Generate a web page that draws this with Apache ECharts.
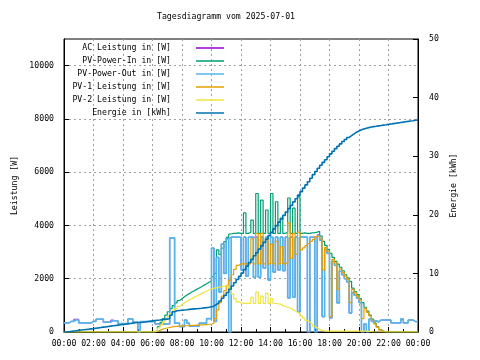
<!DOCTYPE html>
<html><head><meta charset="utf-8">
<script src="https://cdn.jsdelivr.net/npm/echarts@6.0.0/dist/echarts.min.js"></script>
<style>html,body{margin:0;padding:0;background:#fff}#c{width:480px;height:360px}</style>
</head><body><div id="c"></div><script>
const chartTitle = 'Tagesdiagramm vom 2025-07-01';
const leftAxisName = 'Leistung [W]';
const rightAxisName = 'Energie [kWh]';
const seriesNames = ['AC Leistung in [W]', 'PV-Power-In in [W]', 'PV-Power-Out in [W]', 'PV-1 Leistung in [W]', 'PV-2 Leistung in [W]', 'Energie in [kWh]'];
// sample grid: every 10 minutes from 00:00 to 24:00 (hours)
const times = Array.from({length: 145}, (_, i) => i / 6);

const acPower = [
340,340,400,400,480,480,340,340,340,340,340,400,
400,480,480,480,370,370,370,450,420,420,320,320,
320,320,490,490,370,370,0,390,390,390,390,390,
390,300,300,300,300,300,300,3530,3530,330,330,200,
200,450,330,220,220,220,220,330,330,330,500,500,
3150,400,2800,1500,3300,2200,3500,3560,3560,3560,3560,3560,
2330,3560,2100,3560,3560,3560,3560,2060,3560,2400,3560,1950,
3560,2250,3560,2330,3560,2300,3560,1280,3560,1310,3560,750,
3560,3560,3560,0,3560,3560,0,3650,3450,575,3100,2950,
525,2650,2500,1090,2280,2150,2000,1880,710,1480,1380,1270,
1100,0,300,0,480,400,420,380,450,450,450,450,
450,340,340,340,340,490,340,340,450,450,390,390,
400];
const pvPowerIn = [
0,0,0,0,0,0,0,0,0,0,0,0,
0,0,0,0,0,0,0,0,0,0,0,0,
0,0,0,0,0,0,0,0,0,0,0,0,
0,60,200,360,500,630,760,880,990,1090,1180,1250,
1320,1390,1440,1500,1550,1600,1650,1700,1760,1810,1870,1910,
2080,2200,3080,2900,3150,3390,3550,3680,3700,3700,3720,3700,
3700,4470,3700,3750,4200,3700,5200,3700,4950,3700,4580,3700,
5200,3700,4890,3700,4280,3700,3750,5030,3700,4650,3700,5080,
3700,3720,3700,3700,3720,3730,3750,3780,3600,3400,3250,3100,
2950,2800,2650,2550,2430,2300,2150,2030,1900,1650,1520,1400,
1250,1100,930,780,630,480,330,200,90,30,0,0,
0,0,0,0,0,0,0,0,0,0,0,0,
0];
const pvPowerOut = [
340,340,400,400,450,450,340,340,340,340,340,400,
400,480,480,480,370,370,370,420,420,420,320,320,
320,320,490,490,370,370,0,390,390,390,390,390,
390,300,300,300,300,300,300,3530,3530,330,330,200,
200,450,330,220,220,220,220,330,330,330,500,500,
3150,400,2800,1500,3300,2200,3500,0,3560,3560,3560,3560,
2330,3560,2100,3560,3560,2060,3560,2060,3560,2400,3560,1950,
3560,2250,3560,2330,3560,2300,3560,1280,3560,1310,3560,750,
3560,3560,3560,0,3560,3560,0,3600,3450,575,3100,2950,
525,2650,2500,1090,2280,2150,2000,1880,710,1480,1380,1270,
1100,0,300,0,480,400,420,380,450,450,450,450,
450,340,340,340,340,490,340,340,450,450,390,390,
400];
const pv1Power = [
0,0,0,0,0,0,0,0,0,0,0,0,
0,0,0,0,0,0,0,0,0,0,0,0,
0,0,0,0,0,0,0,0,0,0,0,0,
0,20,60,100,130,150,170,190,200,210,220,225,
230,235,240,245,250,255,260,265,270,280,290,300,
330,500,830,1100,1350,1550,1750,1950,2150,2350,2500,2560,
2560,2560,2560,2560,3500,2560,3700,2560,3700,2560,3500,2560,
3300,2560,3400,2560,3200,2560,2600,4100,2760,3700,2920,3750,
3080,3160,3240,3320,3400,3480,3580,3600,3500,2330,3170,3030,
575,2730,2590,1600,2370,2240,2100,1980,1100,1600,1470,1350,
1200,500,890,740,600,450,300,180,80,30,10,0,
0,0,0,0,0,0,0,0,0,0,0,0,
0];
const pv2Power = [
0,0,0,0,0,0,0,0,0,0,0,0,
0,0,0,0,0,0,0,0,0,0,0,0,
0,0,0,0,0,0,0,0,0,0,0,0,
0,50,150,260,370,480,590,690,790,880,960,1030,
1090,1150,1200,1250,1300,1350,1390,1440,1490,1530,1575,1610,
1640,1660,1680,1700,1715,1725,1730,1640,1420,1250,1130,1090,
1075,1075,1075,1075,1300,1075,1500,1075,1350,1075,1450,1075,
1250,1070,1060,1050,1000,960,930,900,850,800,740,690,
600,520,440,370,300,220,160,100,60,40,30,30,
30,30,30,30,30,30,30,30,30,30,30,30,
30,30,30,20,10,0,0,0,0,0,0,0,
0,0,0,0,0,0,0,0,0,0,0,0,
0];
const energyKWh = [
0.00,0.05,0.10,0.16,0.22,0.28,0.33,0.38,0.43,0.48,0.53,0.58,
0.64,0.70,0.77,0.83,0.88,0.94,1.00,1.06,1.12,1.18,1.23,1.28,
1.33,1.38,1.45,1.52,1.57,1.62,1.63,1.66,1.72,1.78,1.84,1.90,
1.96,2.01,2.05,2.10,2.15,2.20,2.25,2.85,3.45,3.62,3.68,3.72,
3.76,3.80,3.86,3.90,3.94,3.98,4.02,4.06,4.11,4.16,4.22,4.30,
4.40,4.70,4.95,5.30,5.75,6.25,6.75,7.30,7.85,8.40,8.95,9.50,
10.05,10.65,11.25,11.85,12.40,13.00,13.55,14.15,14.70,15.30,15.85,16.45,
17.00,17.60,18.15,18.75,19.30,19.90,20.45,21.05,21.60,22.20,22.75,23.35,
23.95,24.55,25.10,25.65,26.25,26.85,27.40,27.95,28.45,28.95,29.40,29.90,
30.40,30.85,31.30,31.70,32.10,32.50,32.85,33.20,33.50,33.80,34.10,34.30,
34.50,34.65,34.78,34.88,34.97,35.05,35.10,35.17,35.23,35.30,35.36,35.43,
35.50,35.56,35.62,35.68,35.75,35.81,35.88,35.94,36.00,36.06,36.13,36.20,
36.26];

const seriesValues = [acPower, pvPowerIn, pvPowerOut, pv1Power, pv2Power, energyKWh];
const seriesColors = ['#9400d3', '#009e73', '#56b4e9', '#e69f00', '#f0e442', '#0072b2'];
const seriesWidths = [0.8, 1.2, 1.7, 1.2, 1.2, 1.6];
const FONT = 'DejaVu Sans Mono';
const FS = 8.2;

const chart = echarts.init(document.getElementById('c'), null, {renderer: 'canvas'});
const pad2 = n => (n < 10 ? '0' : '') + n;
const series = seriesValues.map((vals, k) => ({
  name: seriesNames[k],
  type: 'line',
  step: 'end',
  yAxisIndex: k === 5 ? 1 : 0,
  symbol: 'none',
  animation: false,
  color: seriesColors[k],
  lineStyle: {color: seriesColors[k], width: seriesWidths[k]},
  itemStyle: {color: seriesColors[k]},
  data: vals.map((v, i) => [times[i], v])
}));

chart.setOption({
  animation: false,
  backgroundColor: '#ffffff',
  title: {text: chartTitle, left: 157, top: 13, padding: 0,
    textStyle: {fontFamily: FONT, fontSize: FS, fontWeight: 'normal', color: '#000'}},
  legend: {
    orient: 'vertical', right: 256, top: 43, padding: 0, align: 'right',
    icon: 'rect', itemWidth: 28, itemHeight: 1.5, itemGap: 3,
    textStyle: {fontFamily: FONT, fontSize: FS, color: '#000', lineHeight: 10, padding: [0, 20, 0, 0]},
    data: seriesNames
  },
  grid: {left: 64, right: 62, top: 39, bottom: 28, show: true, borderColor: '#000', borderWidth: 1, outerBoundsMode: 'none'},
  xAxis: {
    type: 'value', min: 0, max: 24, interval: 2,
    axisLine: {show: true, lineStyle: {color: '#000'}},
    axisTick: {show: true, inside: true, length: 5, lineStyle: {color: '#000'}},
    minorTick: {show: true, splitNumber: 2, length: 3, lineStyle: {color: '#000'}},
    splitLine: {show: true, lineStyle: {color: '#a0a0a0', type: [2, 3], width: 1}},
    axisLabel: {fontFamily: FONT, fontSize: FS, color: '#000', margin: 8,
      formatter: v => pad2(v % 24) + ':00'}
  },
  yAxis: [{
    type: 'value', min: 0, max: 11000, interval: 2000,
    name: leftAxisName, nameLocation: 'middle', nameRotate: 90, nameGap: 27,
    nameTextStyle: {fontFamily: FONT, fontSize: FS, color: '#000'},
    axisLine: {show: true, lineStyle: {color: '#000'}},
    axisTick: {show: true, inside: true, length: 5, lineStyle: {color: '#000'}},
    splitLine: {show: true, showMaxLine: false, lineStyle: {color: '#a0a0a0', type: [2, 3], width: 1}},
    axisLabel: {fontFamily: FONT, fontSize: FS, color: '#000', margin: 10, showMaxLabel: false,
      formatter: v => String(v)}
  }, {
    type: 'value', min: 0, max: 50, interval: 10, position: 'right',
    name: rightAxisName, nameLocation: 'middle', nameRotate: 90, nameGap: 31,
    nameTextStyle: {fontFamily: FONT, fontSize: FS, color: '#000'},
    axisLine: {show: true, lineStyle: {color: '#000'}},
    axisTick: {show: true, inside: true, length: 5, lineStyle: {color: '#000'}},
    splitLine: {show: false},
    axisLabel: {fontFamily: FONT, fontSize: FS, color: '#000', margin: 11}
  }],
  series: series
});
</script></body></html>
